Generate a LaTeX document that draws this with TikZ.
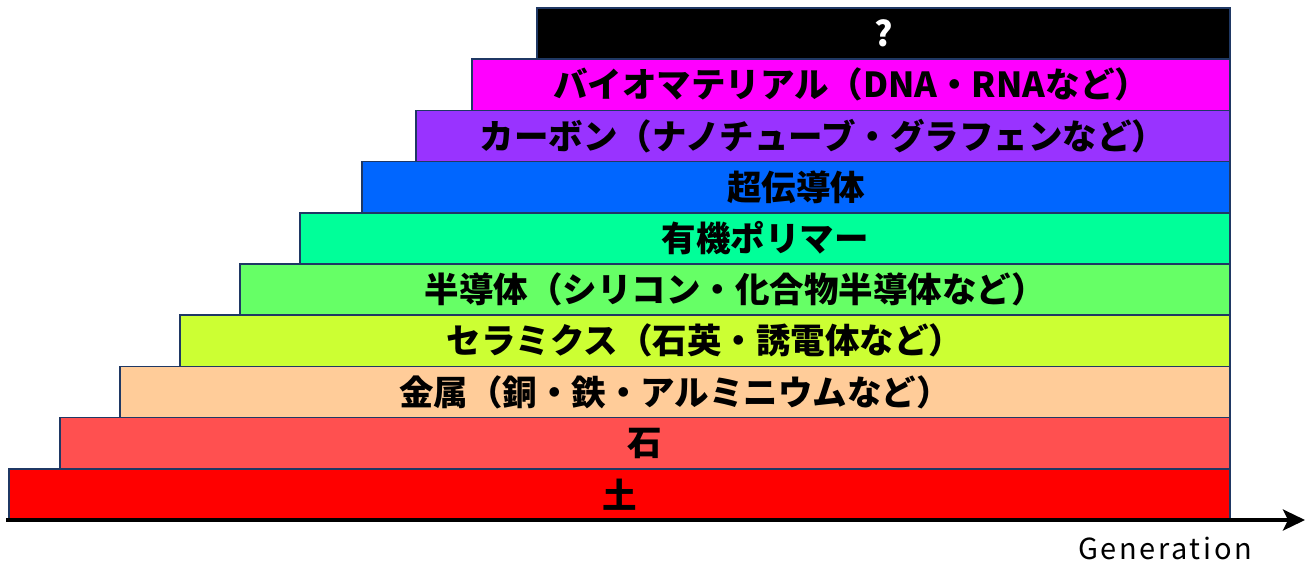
\documentclass[tikz,border=0pt]{standalone}
\usepackage{fontspec}
\setmainfont{Noto Sans CJK JP}
\usetikzlibrary{arrows.meta}
\definecolor{edge}{HTML}{1F3864}
\definecolor{cq}{HTML}{000000}
\definecolor{cbio}{HTML}{FF00FF}
\definecolor{ccar}{HTML}{9933FF}
\definecolor{csup}{HTML}{0066FF}
\definecolor{corg}{HTML}{00FF99}
\definecolor{csem}{HTML}{66FF66}
\definecolor{ccer}{HTML}{CCFF33}
\definecolor{cmet}{HTML}{FFCC99}
\definecolor{csto}{HTML}{FF5050}
\definecolor{csoi}{HTML}{FF0000}
\tikzset{
  bar/.style={draw=edge, line width=1.5pt, rectangle, anchor=north west, inner sep=0pt, outer sep=0pt,
    minimum height=51.2pt, font=\fontsize{34.5}{34.5}\selectfont\bfseries, text=black},
  axislabel/.style={font=\fontsize{29}{29}\selectfont\addfontfeatures{LetterSpace=9}, text=black, inner sep=0pt}
}
\begin{document}
\begin{tikzpicture}[x=1pt,y=-1pt]
\useasboundingbox (0,0) rectangle (1309,566);
\node[bar, fill=cq, text=white, minimum width=693pt] (q) at (537,8) {?};
\node[bar, fill=cbio, minimum width=758pt] (bio) at (472,59.2) {バイオマテリアル（DNA・RNAなど）};
\node[bar, fill=ccar, minimum width=814pt] (car) at (416,110.4) {カーボン（ナノチューブ・グラフェンなど）};
\node[bar, fill=csup, minimum width=868pt] (sup) at (362,161.6) {超伝導体};
\node[bar, fill=corg, minimum width=930pt] (org) at (300,212.8) {有機ポリマー};
\node[bar, fill=csem, minimum width=990pt] (sem) at (240,264) {半導体（シリコン・化合物半導体など）};
\node[bar, fill=ccer, minimum width=1050pt] (cer) at (180,315.2) {セラミクス（石英・誘電体など）};
\node[bar, fill=cmet, minimum width=1110pt] (met) at (120,366.4) {金属（銅・鉄・アルミニウムなど）};
\node[bar, fill=csto, minimum width=1170pt] (sto) at (60,417.6) {石};
\node[bar, fill=csoi, minimum width=1221pt] (soi) at (9,468.8) {土};
\coordinate (a0) at (6,520);
\coordinate (a1) at (1305,520);
\draw[line width=3.5pt, -{Stealth[length=22pt,width=21pt,inset=5pt]}] (a0) -- (a1);
\node[axislabel] (gen) at (1165,548) {Generation};
\end{tikzpicture}
\end{document}
